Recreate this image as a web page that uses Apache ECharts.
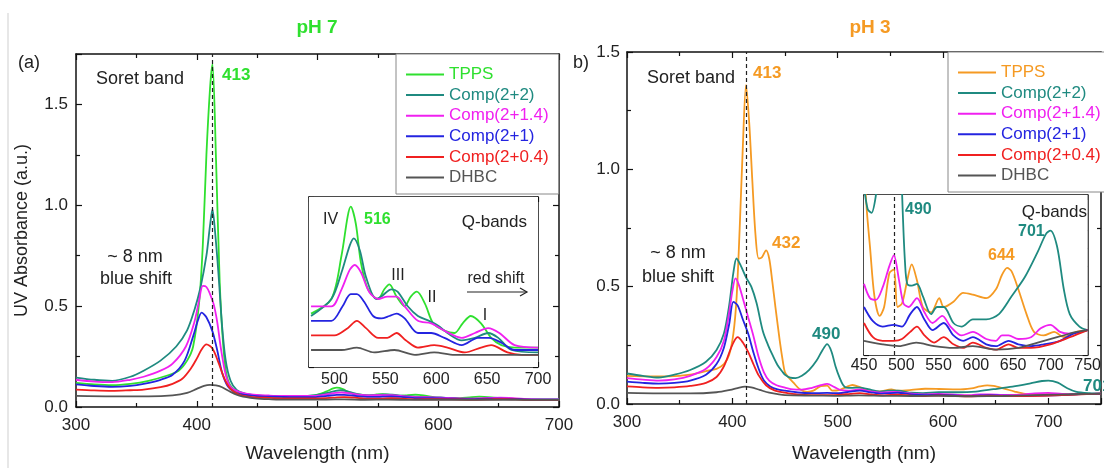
<!DOCTYPE html>
<html><head><meta charset="utf-8">
<script src="https://cdn.jsdelivr.net/npm/echarts/dist/echarts.min.js"></script>
<style>html,body{margin:0;padding:0;background:#fff}#c{width:1104px;height:468px}</style>
</head><body><div id="c"></div>
<script>
// ---------------- DATA ----------------
const seriesNames = ['TPPS','Comp(2+2)','Comp(2+1.4)','Comp(2+1)','Comp(2+0.4)','DHBC'];
const panelTitles = ['pH 7','pH 3'];
const xTicksMain = [300,400,500,600,700];
const yTicksMain = [0.0,0.5,1.0,1.5];

// pH 7, Soret region [nm, absorbance]
const pH7_TPPS_soret = [[300,0.120],[315,0.112],[330,0.108],[345,0.115],[360,0.130],[375,0.155],[385,0.180],[392,0.230],[397,0.300],[402,0.520],[405,0.800],[408,1.250],[411,1.580],[413,1.700],[416,1.220],[419,0.620],[422,0.300],[425,0.150],[430,0.090],[438,0.068],[450,0.058],[462,0.054],[470,0.053]];
const pH7_C22_soret = [[300,0.146],[315,0.135],[330,0.130],[345,0.150],[356,0.180],[370,0.230],[383,0.300],[392,0.380],[398,0.480],[403,0.590],[408,0.750],[411,0.900],[413,0.980],[415,0.880],[418,0.660],[421,0.400],[424,0.230],[428,0.130],[433,0.085],[440,0.066],[452,0.056],[465,0.052]];
const pH7_C214_soret = [[300,0.135],[315,0.126],[330,0.123],[345,0.135],[356,0.150],[370,0.180],[380,0.215],[391,0.300],[398,0.420],[402,0.530],[405,0.600],[408,0.595],[411,0.560],[414,0.510],[417,0.420],[420,0.290],[424,0.160],[428,0.100],[435,0.075],[445,0.062],[460,0.057],[470,0.055]];
const pH7_C21_soret = [[300,0.112],[315,0.104],[330,0.100],[345,0.105],[356,0.115],[370,0.135],[380,0.160],[390,0.230],[397,0.350],[401,0.430],[404,0.468],[408,0.445],[413,0.375],[417,0.280],[421,0.170],[426,0.100],[432,0.072],[440,0.060],[452,0.053],[470,0.050]];
const pH7_C204_soret = [[300,0.086],[315,0.082],[330,0.080],[345,0.083],[356,0.086],[370,0.098],[380,0.115],[388,0.140],[395,0.190],[400,0.240],[404,0.285],[408,0.310],[413,0.290],[418,0.220],[423,0.140],[428,0.090],[435,0.062],[445,0.050],[460,0.045],[470,0.043]];
const pH7_DHBC_soret = [[300,0.055],[330,0.053],[360,0.053],[380,0.058],[392,0.070],[400,0.090],[406,0.105],[411,0.110],[416,0.107],[421,0.098],[428,0.075],[436,0.055],[448,0.043],[462,0.038],[470,0.037]];

// pH 7, Q-band region (also drawn in the inset)
const pH7_TPPS_Q = [[477,0.052],[497,0.058],[507,0.076],[513,0.092],[516,0.096],[521,0.089],[526,0.073],[533,0.062],[543,0.058],[549,0.062],[554,0.064],[561,0.059],[569,0.055],[575,0.059],[581,0.061],[589,0.056],[597,0.048],[608,0.045],[618,0.044],[626,0.048],[634,0.051],[644,0.048],[654,0.042],[664,0.039],[677,0.038],[700,0.038]];
const pH7_C22_Q = [[477,0.051],[497,0.058],[507,0.069],[515,0.080],[519,0.083],[525,0.078],[531,0.067],[541,0.058],[546,0.059],[556,0.062],[562,0.061],[572,0.055],[582,0.051],[593,0.049],[602,0.047],[611,0.044],[625,0.041],[638,0.042],[651,0.044],[661,0.042],[674,0.037],[700,0.036]];
const pH7_C214_Q = [[477,0.055],[497,0.055],[507,0.062],[515,0.070],[520,0.072],[526,0.069],[534,0.061],[543,0.058],[552,0.059],[561,0.059],[569,0.055],[582,0.049],[595,0.048],[608,0.045],[625,0.042],[638,0.044],[651,0.046],[662,0.044],[677,0.039],[700,0.038]];
const pH7_C21_Q = [[477,0.049],[497,0.049],[508,0.055],[516,0.060],[522,0.060],[529,0.057],[538,0.051],[546,0.050],[554,0.051],[561,0.052],[569,0.050],[582,0.044],[595,0.044],[608,0.042],[625,0.039],[641,0.042],[652,0.042],[664,0.040],[677,0.037],[700,0.037]];
const pH7_C204_Q = [[477,0.043],[500,0.043],[513,0.046],[522,0.049],[531,0.046],[543,0.042],[552,0.042],[561,0.044],[570,0.041],[582,0.038],[598,0.039],[611,0.038],[628,0.036],[644,0.038],[654,0.039],[670,0.036],[684,0.035],[700,0.035]];
const pH7_DHBC_Q = [[477,0.037],[507,0.037],[522,0.038],[539,0.036],[559,0.037],[579,0.035],[598,0.036],[618,0.035],[638,0.035],[657,0.035],[677,0.035],[700,0.035]];

// pH 3, Soret region
const pH3_TPPS_soret = [[300,0.120],[320,0.118],[340,0.118],[360,0.125],[375,0.140],[385,0.150],[392,0.170],[397,0.210],[401,0.300],[404,0.450],[407,0.750],[410,1.100],[413,1.360],[416,1.200],[419,0.950],[422,0.720],[425,0.620],[428,0.625],[432,0.655],[435,0.620],[438,0.520],[441,0.410],[445,0.270],[448,0.180]];
const pH3_C22_soret = [[300,0.130],[315,0.120],[330,0.113],[345,0.125],[360,0.145],[375,0.180],[385,0.230],[392,0.300],[397,0.420],[401,0.560],[404,0.620],[408,0.590],[413,0.540],[418,0.500],[423,0.430],[429,0.310],[434,0.250],[438,0.210],[443,0.165],[448,0.135]];
const pH3_C214_soret = [[300,0.110],[315,0.104],[330,0.100],[345,0.105],[360,0.120],[375,0.150],[385,0.200],[392,0.270],[397,0.390],[400,0.480],[403,0.535],[406,0.510],[410,0.450],[415,0.370],[420,0.290],[425,0.200],[430,0.135],[435,0.100],[442,0.080]];
const pH3_C21_soret = [[300,0.095],[315,0.090],[330,0.087],[345,0.090],[360,0.100],[375,0.125],[385,0.170],[392,0.240],[397,0.340],[401,0.435],[405,0.420],[410,0.360],[415,0.300],[420,0.220],[425,0.150],[430,0.100],[436,0.075],[443,0.062]];
const pH3_C204_soret = [[300,0.075],[315,0.071],[330,0.069],[345,0.071],[360,0.077],[375,0.090],[385,0.115],[392,0.160],[398,0.230],[402,0.270],[405,0.285],[410,0.262],[415,0.222],[420,0.170],[425,0.122],[432,0.080],[440,0.058]];
const pH3_DHBC_soret = [[300,0.047],[330,0.045],[360,0.045],[385,0.050],[398,0.060],[405,0.068],[412,0.074],[418,0.071],[426,0.060],[435,0.048],[443,0.042]];

// pH 3, Q-band region (also drawn in the inset)
const pH3_TPPS_Q = [[450,0.135],[454,0.110],[458,0.091],[464,0.063],[471,0.052],[477,0.057],[484,0.076],[490,0.078],[495,0.057],[501,0.059],[508,0.072],[514,0.081],[521,0.072],[529,0.057],[540,0.054],[551,0.062],[557,0.057],[570,0.060],[583,0.065],[596,0.064],[614,0.062],[627,0.067],[635,0.075],[642,0.079],[648,0.077],[657,0.067],[668,0.053],[678,0.043],[691,0.041],[705,0.043],[718,0.040],[735,0.043],[750,0.044]];
const pH3_C22_Q = [[450,0.125],[455,0.112],[460,0.110],[466,0.120],[473,0.145],[480,0.185],[485,0.225],[490,0.255],[494,0.225],[498,0.160],[502,0.110],[505,0.082],[508,0.070],[514,0.069],[521,0.070],[529,0.063],[540,0.053],[548,0.057],[557,0.057],[570,0.048],[581,0.046],[596,0.050],[614,0.050],[631,0.053],[648,0.063],[666,0.074],[683,0.088],[694,0.098],[700,0.100],[709,0.091],[718,0.067],[726,0.053],[739,0.046],[750,0.044]];
const pH3_C214_Q = [[450,0.070],[458,0.062],[466,0.061],[475,0.068],[484,0.080],[490,0.086],[497,0.072],[503,0.059],[510,0.057],[521,0.062],[531,0.054],[542,0.048],[555,0.052],[566,0.046],[581,0.041],[596,0.043],[614,0.039],[627,0.038],[635,0.041],[644,0.041],[657,0.039],[674,0.040],[687,0.045],[700,0.047],[713,0.043],[726,0.042],[750,0.044]];
const pH3_C21_Q = [[450,0.057],[462,0.049],[475,0.046],[490,0.047],[501,0.046],[512,0.053],[521,0.057],[531,0.050],[542,0.044],[557,0.048],[570,0.041],[583,0.038],[596,0.040],[614,0.036],[627,0.035],[644,0.038],[657,0.036],[674,0.035],[691,0.036],[713,0.038],[731,0.042],[750,0.044]];
const pH3_C204_Q = [[450,0.048],[462,0.040],[475,0.038],[490,0.038],[501,0.039],[512,0.043],[521,0.046],[531,0.041],[544,0.037],[557,0.040],[570,0.036],[583,0.034],[596,0.037],[614,0.034],[627,0.033],[644,0.036],[657,0.034],[674,0.034],[700,0.036],[726,0.040],[750,0.044]];
const pH3_DHBC_Q = [[450,0.038],[475,0.036],[497,0.035],[520,0.037],[544,0.035],[570,0.034],[596,0.035],[627,0.033],[657,0.034],[683,0.037],[709,0.040],[735,0.043],[750,0.044]];

// ---------------- STYLE ----------------
const FONT = "'Liberation Sans', Arial, Helvetica, sans-serif";
const GREEN = '#2fe02f', ORANGE = '#f59a23', TEAL = '#1f8a80', INK = '#222';
const colorsA = [GREEN, TEAL, '#f020f0', '#2424e0', '#f02020', '#555555'];
const colorsB = [ORANGE, TEAL, '#f020f0', '#2424e0', '#f02020', '#555555'];
const SUFFIX_B = '#b';

const pH7_soret = [pH7_TPPS_soret, pH7_C22_soret, pH7_C214_soret, pH7_C21_soret, pH7_C204_soret, pH7_DHBC_soret];
const pH7_Q = [pH7_TPPS_Q, pH7_C22_Q, pH7_C214_Q, pH7_C21_Q, pH7_C204_Q, pH7_DHBC_Q];
const pH3_soret = [pH3_TPPS_soret, pH3_C22_soret, pH3_C214_soret, pH3_C21_soret, pH3_C204_soret, pH3_DHBC_soret];
const pH3_Q = [pH3_TPPS_Q, pH3_C22_Q, pH3_C214_Q, pH3_C21_Q, pH3_C204_Q, pH3_DHBC_Q];

const near = (v, step) => Math.abs(v / step - Math.round(v / step)) < 1e-6;
const fmtInt = step => v => near(v, step) ? String(Math.round(v)) : '';
const fmtDec = step => v => near(v, step) ? v.toFixed(1) : '';

const lineSt = {color: '#111', width: 1.5};
const tickSt = {color: '#111', width: 1.2};

function xAx(grid, min, max, interval, pos, label, extra) {
  return Object.assign({
    type: 'value', gridIndex: grid, position: pos, min, max, interval,
    axisLine: {onZero: false, lineStyle: lineSt},
    axisTick: {inside: true, length: 6, lineStyle: tickSt},
    minorTick: {show: false},
    splitLine: {show: false}, minorSplitLine: {show: false},
    axisLabel: label ? Object.assign({color: INK, fontFamily: FONT}, label) : {show: false}
  }, extra || {});
}
function yAx(grid, min, max, interval, pos, label, extra) {
  return Object.assign({
    type: 'value', gridIndex: grid, position: pos, min, max, interval,
    axisLine: {onZero: false, lineStyle: lineSt},
    axisTick: {inside: true, length: 6, lineStyle: tickSt},
    minorTick: {show: false},
    splitLine: {show: false}, minorSplitLine: {show: false},
    axisLabel: label ? Object.assign({color: INK, fontFamily: FONT}, label) : {show: false}
  }, extra || {});
}
const minor2 = {minorTick: {show: true, splitNumber: 2, length: 4, lineStyle: tickSt}};
const insetTick = {axisTick: {inside: true, length: 5, lineStyle: tickSt}};

const xAxes = [
  xAx(0, 300, 700, 100, 'bottom', {fontSize: 17, margin: 10, formatter: fmtInt(100)},
      Object.assign({name: 'Wavelength (nm)', nameLocation: 'middle', nameGap: 37,
        nameTextStyle: {fontSize: 19, color: INK, fontFamily: FONT}}, minor2)),
  xAx(0, 300, 700, 100, 'top', null, minor2),
  xAx(1, 300, 750, 100, 'bottom', {fontSize: 17, margin: 10, formatter: fmtInt(100)},
      Object.assign({name: 'Wavelength (nm)', nameLocation: 'middle', nameGap: 40,
        nameTextStyle: {fontSize: 19, color: INK, fontFamily: FONT}}, minor2)),
  xAx(1, 300, 750, 100, 'top', null, minor2),
  xAx(2, 475, 700, 25, 'bottom', {fontSize: 16, margin: 5, formatter: fmtInt(50)}, insetTick),
  xAx(2, 475, 700, 25, 'top', null, insetTick),
  xAx(3, 450, 750, 50, 'bottom', {fontSize: 16, margin: 3, formatter: fmtInt(50)},
      Object.assign({minorTick: {show: true, splitNumber: 2, length: 3, lineStyle: tickSt}}, insetTick)),
  xAx(3, 450, 750, 50, 'top', null,
      Object.assign({minorTick: {show: true, splitNumber: 2, length: 3, lineStyle: tickSt}}, insetTick))
];
const yAxes = [
  yAx(0, 0, 1.75, 0.5, 'left', {fontSize: 17, margin: 8, formatter: fmtDec(0.5)},
      Object.assign({name: 'UV Absorbance (a.u.)', nameLocation: 'middle', nameGap: 45,
        nameTextStyle: {fontSize: 18, color: INK, fontFamily: FONT}}, minor2)),
  yAx(0, 0, 1.75, 0.5, 'right', null, minor2),
  yAx(1, 0, 1.5, 0.5, 'left', {fontSize: 17, margin: 7, formatter: fmtDec(0.5)}, minor2),
  yAx(1, 0, 1.5, 0.5, 'right', null, minor2),
  yAx(2, 0.03, 0.10, 0.01, 'left', null, insetTick),
  yAx(2, 0.03, 0.10, 0.01, 'right', null, insetTick),
  yAx(3, 0.03, 0.12, 0.01, 'left', null, insetTick),
  yAx(3, 0.03, 0.12, 0.01, 'right', null, insetTick)
];

function mk(name, color, data, xi, yi, extra) {
  return Object.assign({
    type: 'line', name, data, xAxisIndex: xi, yAxisIndex: yi,
    symbol: 'none', showSymbol: false, smooth: 0.3, clip: true, silent: true,
    lineStyle: {color, width: 1.8}, itemStyle: {color}, z: 3
  }, extra || {});
}
const dashed = v => ({markLine: {silent: true, symbol: ['none', 'none'], label: {show: false},
  lineStyle: {color: INK, type: [4, 3], width: 1.2}, data: [{xAxis: v}]}});

const series = [];
seriesNames.forEach((n, i) => {
  series.push(mk(n, colorsA[i], pH7_soret[i].concat(pH7_Q[i]), 0, 0, i === 0 ? dashed(413) : null));
});
seriesNames.forEach((n, i) => {
  series.push(mk(n + SUFFIX_B, colorsB[i], pH3_soret[i].concat(pH3_Q[i]), 2, 2, i === 0 ? dashed(413) : null));
});
seriesNames.forEach((n, i) => {
  series.push(mk(n, colorsA[i], pH7_Q[i], 4, 4, {z: 5}));
});
seriesNames.forEach((n, i) => {
  series.push(mk(n + SUFFIX_B, colorsB[i], pH3_Q[i], 6, 6, Object.assign({z: 5}, i === 0 ? dashed(490) : {})));
});

function legend(left, top, names, colors) {
  return {
    orient: 'vertical', left, top, icon: 'rect', itemWidth: 38, itemHeight: 2, itemGap: 3.6,
    padding: [12, 10, 8, 10], borderColor: '#888', borderWidth: 1, backgroundColor: '#fff',
    selectedMode: false,
    textStyle: {fontSize: 17, fontFamily: FONT},
    formatter: nm => nm.replace(SUFFIX_B, ''),
    data: names.map((n, i) => ({name: n, textStyle: {color: colors[i]}, itemStyle: {color: colors[i]}}))
  };
}

function T(text, x, y, o) {
  o = o || {};
  return {type: 'text', x, y, z: 50, silent: true, style: {
    text, fill: o.c || INK,
    font: (o.b ? 'bold ' : '') + (o.s || 18) + 'px ' + FONT,
    align: o.a || 'left', verticalAlign: 'middle'}};
}

const graphics = [
  {type: 'line', shape: {x1: 8, y1: 13, x2: 8, y2: 468}, style: {stroke: '#cfcfcf', lineWidth: 1}},
  T(panelTitles[0], 317, 28, {c: GREEN, b: true, s: 19, a: 'center'}),
  T(panelTitles[1], 870, 28, {c: ORANGE, b: true, s: 19, a: 'center'}),
  T('(a)', 18, 63),
  T('b)', 573, 63),
  // panel a
  T('Soret band', 96, 79),
  T('413', 222, 75, {c: GREEN, b: true, s: 17}),
  T('~ 8 nm', 135, 257, {a: 'center'}),
  T('blue shift', 136, 279, {a: 'center'}),
  // inset a
  T('IV', 323, 220, {s: 16}),
  T('516', 364, 220, {c: GREEN, b: true, s: 16}),
  T('Q-bands', 527, 222, {s: 17, a: 'right'}),
  T('III', 398, 276, {s: 16, a: 'center'}),
  T('II', 432, 298, {s: 16, a: 'center'}),
  T('red shift', 496, 279, {s: 16, a: 'center'}),
  T('I', 485, 316, {s: 16, a: 'center'}),
  {type: 'line', z: 50, shape: {x1: 467, y1: 292, x2: 527, y2: 292}, style: {stroke: INK, lineWidth: 1.2}},
  {type: 'polyline', z: 50, shape: {points: [[520, 288], [527, 292], [520, 296]]}, style: {stroke: INK, lineWidth: 1.2, fill: 'none'}},
  // panel b
  T('Soret band', 647, 78),
  T('413', 753, 73, {c: ORANGE, b: true, s: 17}),
  T('432', 772, 243, {c: ORANGE, b: true, s: 17}),
  T('~ 8 nm', 678, 253, {a: 'center'}),
  T('blue shift', 678, 277, {a: 'center'}),
  T('490', 812, 334, {c: TEAL, b: true, s: 17}),
  T('701', 1083, 386, {c: TEAL, b: true, s: 17}),
  // inset b
  T('490', 905, 210, {c: TEAL, b: true, s: 16}),
  T('Q-bands', 1087, 212, {s: 17, a: 'right'}),
  T('701', 1018, 232, {c: TEAL, b: true, s: 16}),
  T('644', 988, 256, {c: ORANGE, b: true, s: 16})
];

const chart = echarts.init(document.getElementById('c'), null, {renderer: 'canvas'});
chart.setOption({
  animation: false,
  backgroundColor: '#fff',
  textStyle: {fontFamily: FONT},
  grid: [
    {left: 76, top: 54, width: 483, height: 358},
    {left: 627, top: 52, width: 485, height: 360},
    {left: 309, top: 197, width: 229, height: 170, show: true, backgroundColor: '#fff', borderWidth: 0, z: 4},
    {left: 864, top: 195, width: 231, height: 160, show: true, backgroundColor: '#fff', borderWidth: 0, z: 4}
  ],
  legend: [
    legend(396, 54, seriesNames, colorsA),
    legend(948, 52, seriesNames.map(n => n + SUFFIX_B), colorsB)
  ],
  xAxis: xAxes,
  yAxis: yAxes,
  series,
  graphic: graphics
});
</script></body></html>
